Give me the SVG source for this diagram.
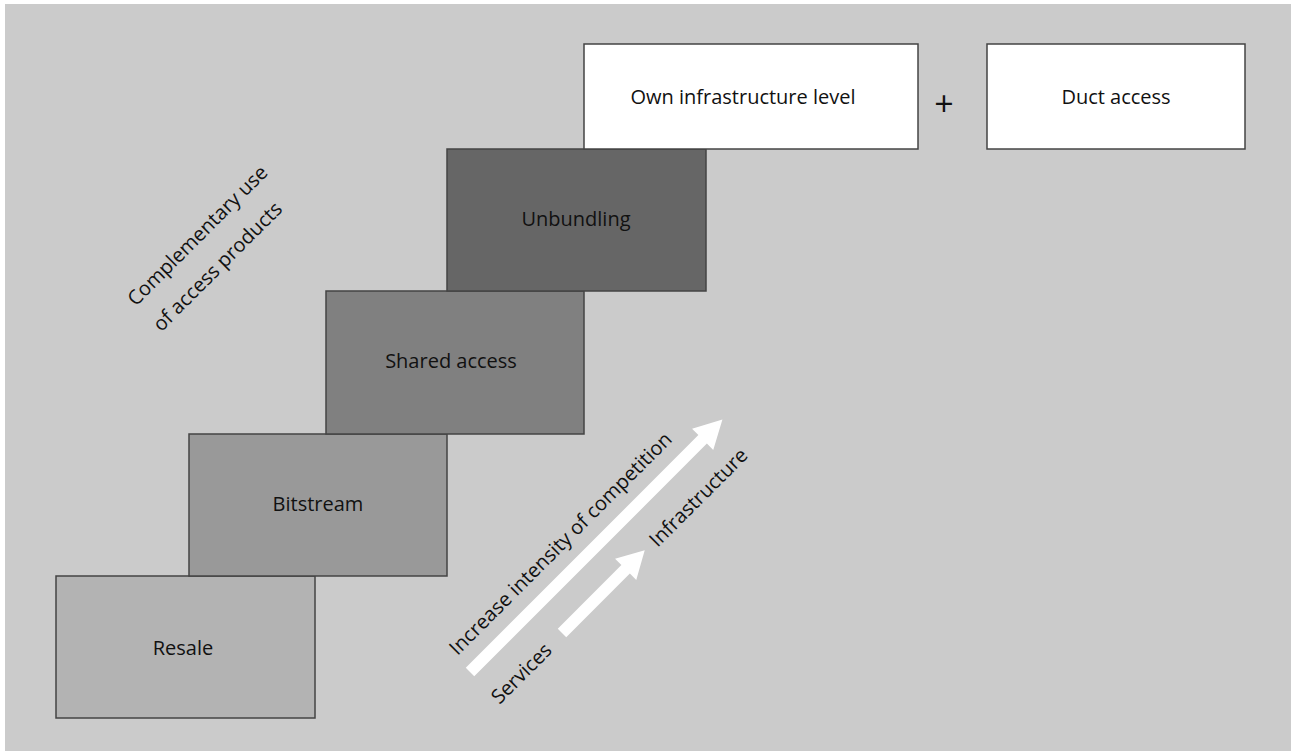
<svg xmlns="http://www.w3.org/2000/svg" width="1291" height="751" viewBox="0 0 1291 751">
<style>
.box{stroke:#444;stroke-width:1.5}
.lbl{font-family:"Open Sans","Noto Sans","Liberation Sans",sans-serif;font-size:20px;fill:#111;text-anchor:middle;dominant-baseline:central}
.arrow{fill:#fff}
</style>
<rect x="0" y="0" width="1291" height="751" fill="#fff"/>
<rect x="5" y="4" width="1286" height="747" fill="#cbcbcb"/>
<g id="node-resale"><rect class="box" x="56" y="576" width="259" height="142" fill="#b3b3b3"/><text class="lbl" x="183" y="647">Resale</text></g>
<g id="node-bitstream"><rect class="box" x="189" y="434" width="258" height="142" fill="#999"/><text class="lbl" x="318" y="503">Bitstream</text></g>
<g id="node-shared"><rect class="box" x="326" y="291" width="258" height="143" fill="#808080"/><text class="lbl" x="451" y="360">Shared access</text></g>
<g id="node-unbundling"><rect class="box" x="447" y="149" width="259" height="142" fill="#666"/><text class="lbl" x="576" y="218">Unbundling</text></g>
<g id="node-own"><rect class="box" x="584" y="44" width="334" height="105" fill="#fff"/><text class="lbl" x="743" y="96">Own infrastructure level</text></g>
<g id="node-plus"><text class="lbl" x="944" y="103" style="font-size:34px">+</text></g>
<g id="node-duct"><rect class="box" x="987" y="44" width="258" height="105" fill="#fff"/><text class="lbl" x="1116" y="96">Duct access</text></g>
<g id="label-complementary">
<text class="lbl" transform="translate(197,235) rotate(-45)">Complementary use</text>
<text class="lbl" transform="translate(217,266) rotate(-45)">of access products</text>
</g>
<g id="connectors">
<path class="arrow" transform="translate(470,672) rotate(-45)" d="M0,-6 L329,-6 L329,-15 L357,0 L329,15 L329,6 L0,6 Z"/>
<path class="arrow" transform="translate(562,633) rotate(-45)" d="M0,-6 L90,-6 L90,-15 L117,0 L90,15 L90,6 L0,6 Z"/>
</g>
<g id="label-arrows">
<text class="lbl" transform="translate(560,543) rotate(-45)">Increase intensity of competition</text>
<text class="lbl" transform="translate(698,497) rotate(-45)">Infrastructure</text>
<text class="lbl" transform="translate(521,673) rotate(-45)">Services</text>
</g>
</svg>
